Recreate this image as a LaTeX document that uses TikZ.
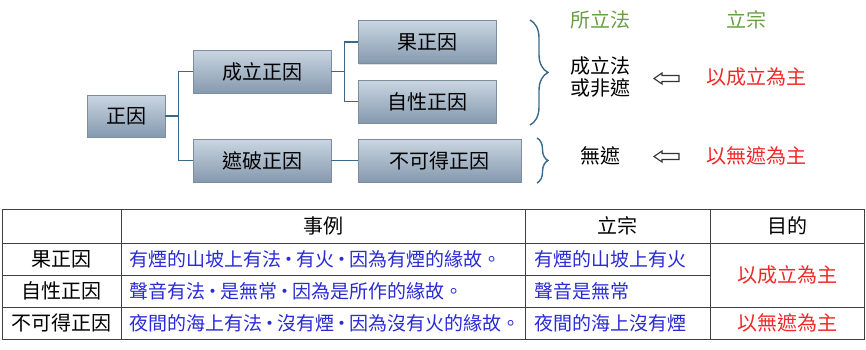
\documentclass[tikz,border=0pt]{standalone}
\usepackage{fontspec}
\setmainfont{Noto Sans CJK TC}
\usetikzlibrary{shadows,decorations.pathreplacing}
\definecolor{boxtop}{HTML}{CAD6E2}
\definecolor{boxbottom}{HTML}{8599AE}
\definecolor{boxedge}{HTML}{7B8D9F}
\definecolor{linkline}{HTML}{3B6A88}
\definecolor{zonggreen}{HTML}{6A9E45}
\definecolor{aimred}{HTML}{F02828}
\definecolor{caseblue}{HTML}{2B2BD6}
\definecolor{gridgray}{HTML}{404040}
\newcommand{\sepdot}{\makebox[0.8em]{·}}
\tikzset{
  catbox/.style={draw=boxedge, top color=boxtop, bottom color=boxbottom,
                 minimum width=138pt, minimum height=43pt, inner sep=0pt,
                 font=\fontsize{20}{22}\selectfont,
                 drop shadow={opacity=0.25, shadow xshift=1pt, shadow yshift=-1pt}},
  rootbox/.style={catbox, minimum width=78pt, minimum height=42pt},
  widebox/.style={catbox, minimum width=163pt},
  link/.style={draw=linkline, line width=1.4pt},
  bracket/.style={draw=linkline, line width=1.4pt, decorate,
                  decoration={brace, amplitude=#1}},
  hollowarrow/.style={draw=black!80, line width=1.1pt, line join=miter},
  plaintext/.style={inner sep=0pt, font=\fontsize{20}{22}\selectfont, align=center},
  greentext/.style={plaintext, text=zonggreen},
  redtext/.style={plaintext, text=aimred},
  casetext/.style={inner sep=0pt, anchor=west, text=caseblue,
                   font=\fontsize{19}{20}\selectfont},
  grid/.style={draw=gridgray, line width=0.9pt},
}
\begin{document}
\begin{tikzpicture}[x=1pt, y=-1pt]
  \useasboundingbox (0,0) rectangle (866,349);
  \node[rootbox] (zy) at (126,116) {正因};
  \node[catbox] (cl) at (262,71.5) {成立正因};
  \node[catbox] (zp) at (262,160.5) {遮破正因};
  \node[catbox] (guo) at (427,42) {果正因};
  \node[catbox] (zx) at (427,101.5) {自性正因};
  \node[widebox] (bk) at (439.5,160.5) {不可得正因};
  \draw[link] (zy.east) -- ++(13,0) coordinate (fork1) |- (cl.west);
  \draw[link] (fork1) |- (zp.west);
  \draw[link] (cl.east) -- ++(13,0) coordinate (fork2) |- (guo.west);
  \draw[link] (fork2) |- (zx.west);
  \draw[link] (zp.east) -- (bk.west);

  \draw[bracket=18pt] (530,20) -- (530,125);
  \draw[bracket=11pt] (537,138) -- (537,183);

  \node[greentext] (sf) at (600,20) {所立法};
  \node[greentext] (lz) at (746,20) {立宗};
  \node[plaintext] (fa1) at (600,77) {成立法\\或非遮};
  \node[redtext] (aim1) at (756,77) {以成立為主};
  \node[plaintext] (fa2) at (600,156) {無遮};
  \node[redtext] (aim2) at (756,156) {以無遮為主};
  \draw[hollowarrow] (654,78.5) -- ++(8,-5.5) -- ++(0,2.5) -- ++(17,0) -- ++(0,6)
    -- ++(-17,0) -- ++(0,2.5) -- cycle;
  \draw[hollowarrow] (654,156.5) -- ++(8,-5.5) -- ++(0,2.5) -- ++(17,0) -- ++(0,6)
    -- ++(-17,0) -- ++(0,2.5) -- cycle;

  \draw[grid] (2,209) rectangle (864,339);
  \draw[grid] (2,243) -- (864,243);
  \draw[grid] (2,275) -- (710,275);
  \draw[grid] (2,307) -- (864,307);
  \draw[grid] (121,209) -- (121,339);
  \draw[grid] (525,209) -- (525,339);
  \draw[grid] (710,209) -- (710,339);

  \node[plaintext] (h1) at (323,226) {事例};
  \node[plaintext] (h2) at (617.5,226) {立宗};
  \node[plaintext] (h3) at (787,226) {目的};
  \node[plaintext] (r1) at (61.5,259) {果正因};
  \node[plaintext] (r2) at (61.5,291) {自性正因};
  \node[plaintext] (r3) at (61.5,323) {不可得正因};
  \node[casetext] (e1) at (129,259) {有煙的山坡上有法\sepdot 有火\sepdot 因為有煙的緣故。};
  \node[casetext] (e2) at (129,291) {聲音有法\sepdot 是無常\sepdot 因為是所作的緣故。};
  \node[casetext] (e3) at (129,323) {夜間的海上有法\sepdot 沒有煙\sepdot 因為沒有火的緣故。};
  \node[casetext] (t1) at (534,259) {有煙的山坡上有火};
  \node[casetext] (t2) at (534,291) {聲音是無常};
  \node[casetext] (t3) at (534,323) {夜間的海上沒有煙};
  \node[redtext] (g1) at (787,275) {以成立為主};
  \node[redtext] (g2) at (787,323) {以無遮為主};
\end{tikzpicture}
\end{document}
